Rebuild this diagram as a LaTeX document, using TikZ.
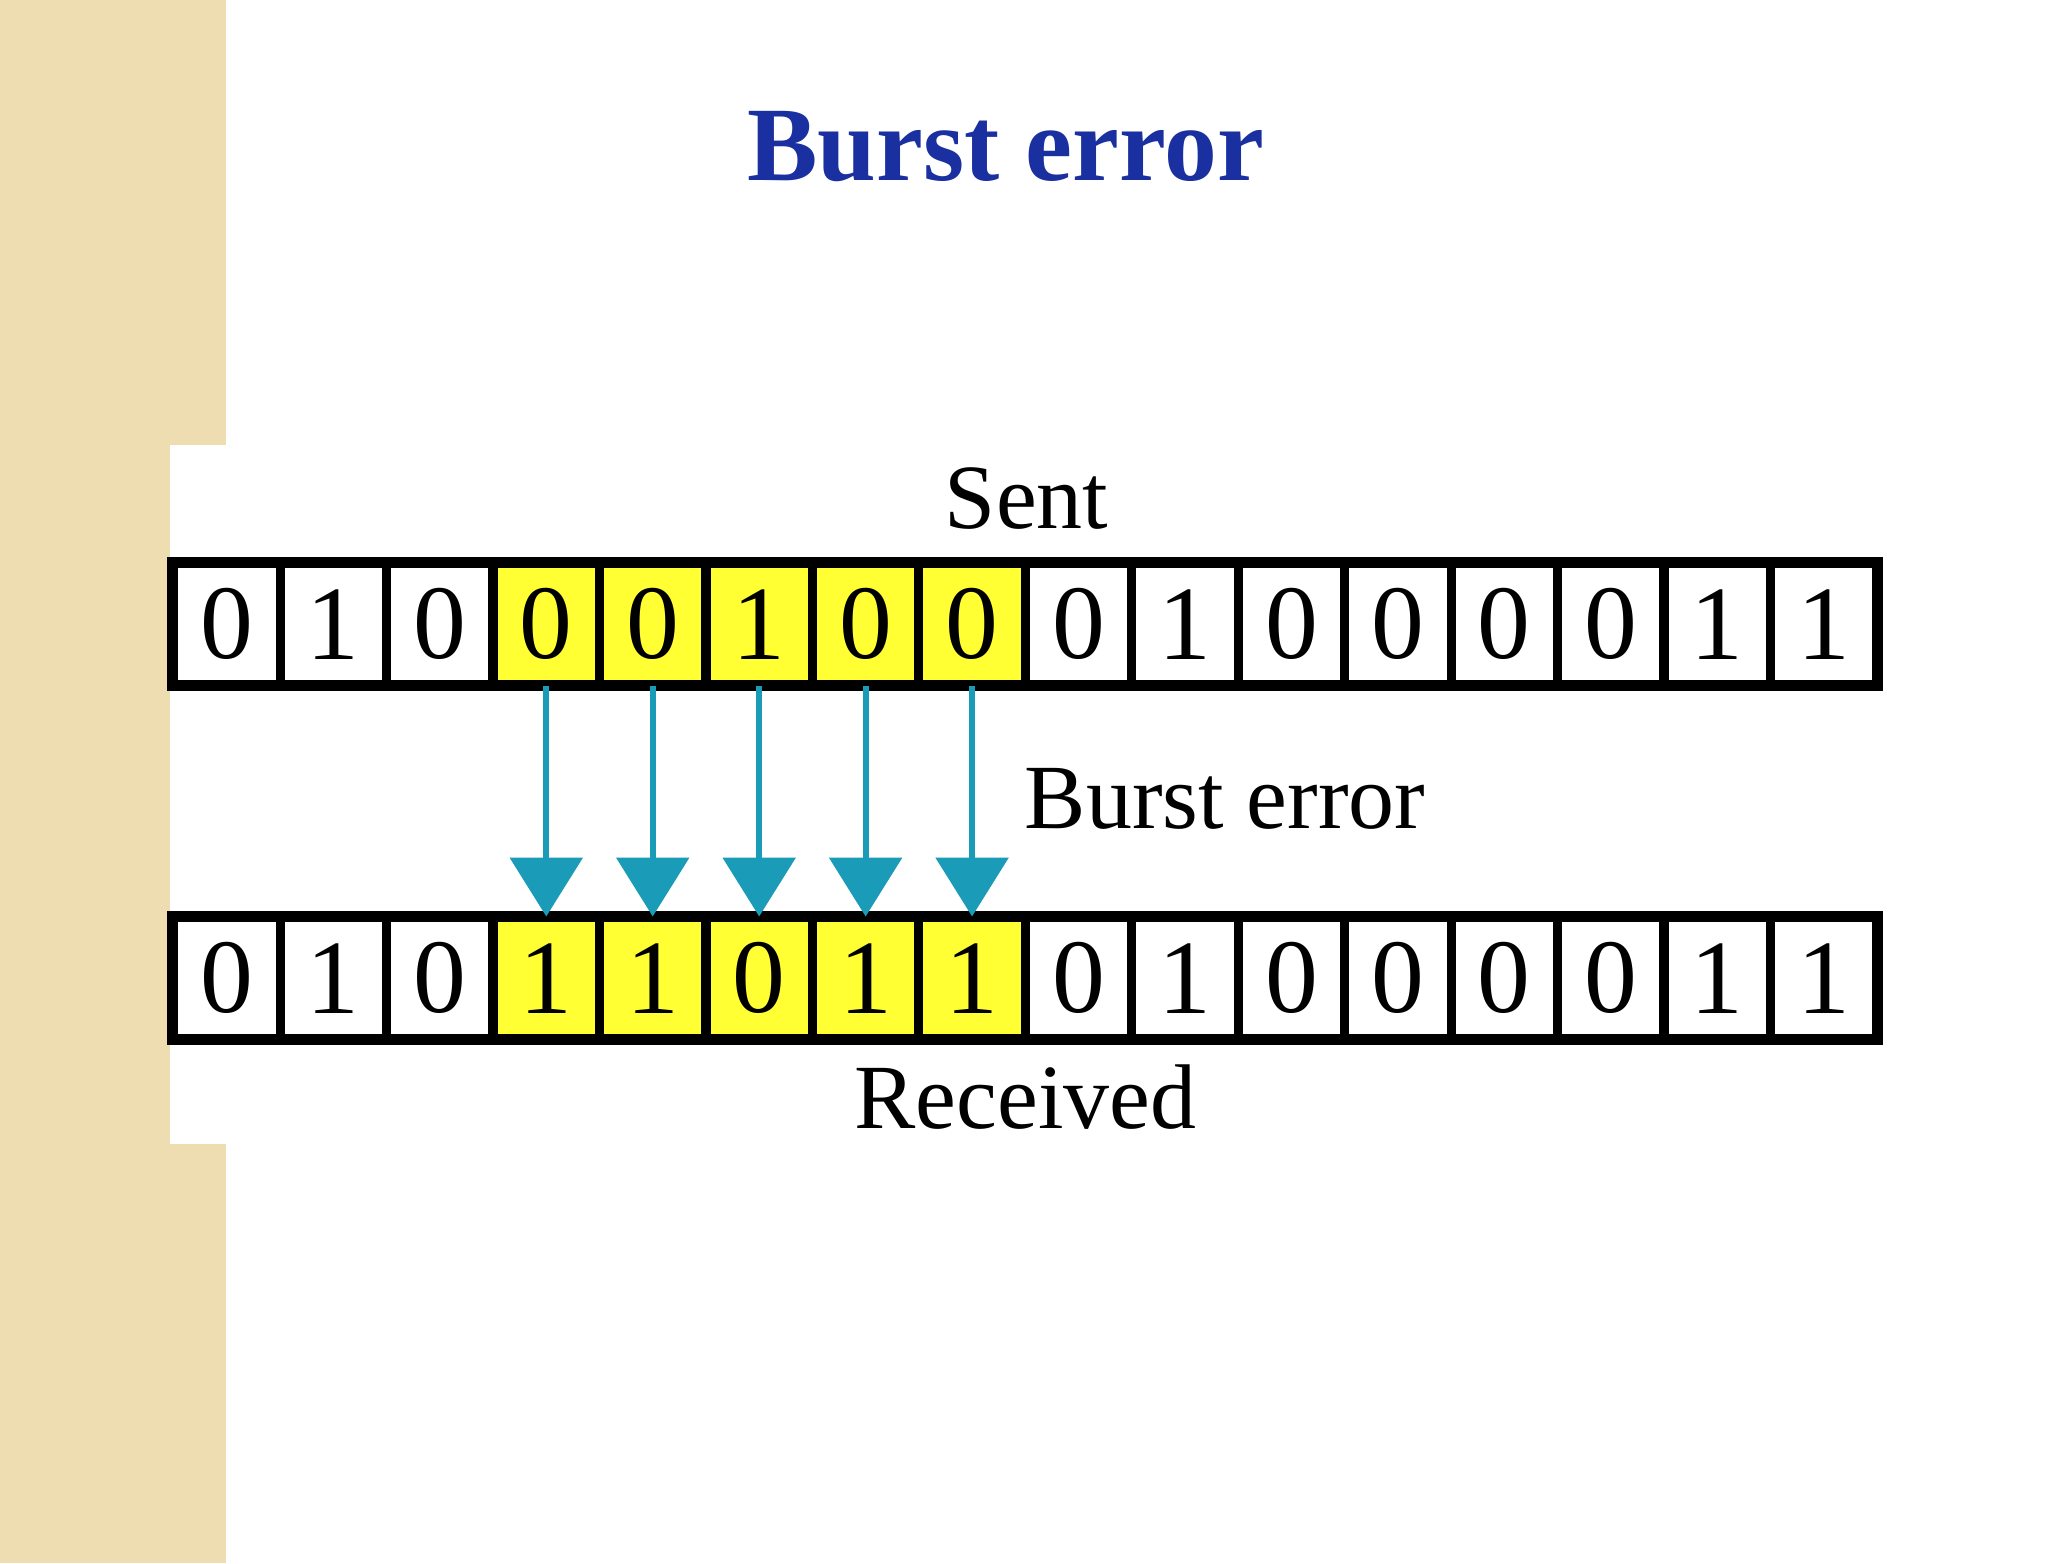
\documentclass[tikz,border=0pt]{standalone}
\usepackage{fontspec}
\setmainfont{Liberation Serif}
\usetikzlibrary{arrows.meta}
\definecolor{beige}{HTML}{EFDDB2}
\definecolor{titleblue}{HTML}{1A2FA0}
\definecolor{teal}{HTML}{1A9BB8}
\definecolor{yel}{HTML}{FFFF33}
\tikzset{
 cell/.style={draw=black,line width=1.3pt,minimum width=0.79cm,minimum height=0.9cm,inner sep=0pt,font=\fontsize{23}{25}\selectfont},
 lbl/.style={font=\fontsize{20}{22}\selectfont,inner sep=0pt},
 arr/.style={draw=teal,line width=1.3pt,-{Triangle[length=0.45cm,width=0.55cm]}}
}
\begin{document}
\begin{tikzpicture}[x=0.01cm,y=-0.01cm]
\useasboundingbox (0,0) rectangle (1568,1197);
\fill[white] (0,0) rectangle (1568,1197);
\fill[beige] (0,0) rectangle (173,1197);
\fill[white] (130,341) rectangle (1440,876);
\node[font=\fontsize{23}{26}\selectfont\bfseries,text=titleblue] (title) at (770,112) {Burst error};
\node[lbl] (sent) at (786,382) {Sent};
\node[lbl] (burst) at (938,612) {Burst error};
\node[lbl] (recv) at (785,840) {Received};
\def\sentbits{0,1,0,0,0,1,0,0,0,1,0,0,0,0,1,1}
\def\recvbits{0,1,0,1,1,0,1,1,0,1,0,0,0,0,1,1}
\foreach \b [count=\i] in \sentbits {
  \pgfmathsetmacro{\cx}{133+81.5*(\i-0.5)}
  \ifnum\i>3 \ifnum\i<9 \def\fc{yel}\else\def\fc{white}\fi\else\def\fc{white}\fi
  \node[cell,fill=\fc] (s\i) at (\cx,478) {\b};
}
\foreach \b [count=\i] in \recvbits {
  \pgfmathsetmacro{\cx}{133+81.5*(\i-0.5)}
  \ifnum\i>3 \ifnum\i<9 \def\fc{yel}\else\def\fc{white}\fi\else\def\fc{white}\fi
  \node[cell,fill=\fc] (r\i) at (\cx,749) {\b};
}
\draw[line width=2.2pt] (s1.north west) rectangle (s16.south east);
\draw[line width=2.2pt] (r1.north west) rectangle (r16.south east);
\foreach \i in {4,...,8} \draw[arr] (s\i.south) -- (r\i.north);
\end{tikzpicture}
\end{document}
